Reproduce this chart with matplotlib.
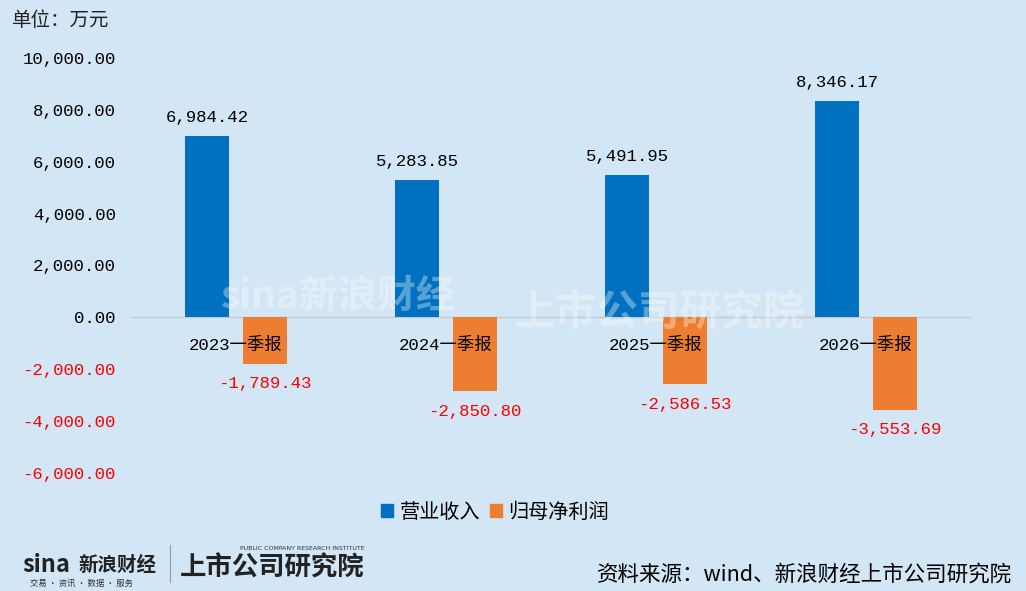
import matplotlib
matplotlib.use("Agg")
import matplotlib.pyplot as plt
from matplotlib.patches import Patch

# data
categories = ["2023一季报", "2024一季报", "2025一季报", "2026一季报"]
revenue = [6984.42, 5283.85, 5491.95, 8346.17]
net_profit = [-1789.43, -2850.80, -2586.53, -3553.69]
y_ticks = [10000, 8000, 6000, 4000, 2000, 0, -2000, -4000, -6000]

BG = "#D2E6F5"
BLUE = "#0070C0"
ORANGE = "#ED7D31"
RED = "#FF0000"
NUM_FONT = ["Liberation Mono", "Noto Sans CJK SC", "DejaVu Sans"]
CJK_FONT = ["Noto Sans CJK SC", "DejaVu Sans"]

fig = plt.figure(figsize=(10.26, 5.91), dpi=100, facecolor=BG)
ax = fig.add_axes([131 / 1026, 118 / 591, 840 / 1026, 415 / 591])
ax.set_facecolor(BG)

x = list(range(len(categories)))
w = 0.21
off = 0.136

# faint watermark behind bars
fig.text(0.215, 0.48, "sina新浪财经", fontsize=28, color="white", alpha=0.35,
         family=CJK_FONT, fontweight="bold", style="italic", zorder=0)
fig.text(0.50, 0.45, "上市公司研究院", fontsize=30, color="white", alpha=0.35,
         family=CJK_FONT, fontweight="bold", style="italic", zorder=0)

ax.bar([i - off for i in x], revenue, width=w, color=BLUE, zorder=3)
ax.bar([i + off for i in x], net_profit, width=w, color=ORANGE, zorder=3)
ax.axhline(0, color="#C8C8C8", lw=1, zorder=2)

for i in x:
    ax.annotate(f"{revenue[i]:,.2f}", (i - off, revenue[i]), xytext=(0, 8),
                textcoords="offset points", ha="center", va="bottom",
                fontsize=12.5, family=NUM_FONT, color="black", zorder=5)
    ax.annotate(f"{net_profit[i]:,.2f}", (i + off, net_profit[i]), xytext=(0, -9),
                textcoords="offset points", ha="center", va="top",
                fontsize=12.5, family=NUM_FONT, color=RED, zorder=5)
    ax.annotate(categories[i], (i, 0), xytext=(0, -20),
                textcoords="offset points", ha="center", va="center",
                fontsize=12.5, family=NUM_FONT, color="black", zorder=6)

ax.set_xlim(-0.5, len(categories) - 0.5)
ax.set_ylim(-6000, 10000)
ax.set_xticks([])
ax.set_yticks(y_ticks)
ax.set_yticklabels([f"{v:,.2f}" for v in y_ticks], family=NUM_FONT, fontsize=12.5)
for lab, v in zip(ax.get_yticklabels(), y_ticks):
    lab.set_color(RED if v < 0 else "black")
ax.tick_params(axis="y", length=0, pad=11)
for s in ax.spines.values():
    s.set_visible(False)

fig.text(12 / 1026, 1 - 20 / 591, "单位：万元", fontsize=14, family=CJK_FONT,
         va="center", ha="left", color="#222222")

handles = [Patch(color=BLUE, label="营业收入"), Patch(color=ORANGE, label="归母净利润")]
fig.legend(handles=handles, loc="center", bbox_to_anchor=(495 / 1026, 1 - 512 / 591),
           ncol=2, frameon=False, handlelength=0.6, handleheight=0.6,
           handletextpad=0.3, columnspacing=0.5, prop={"family": CJK_FONT, "size": 14.5})

# logos and source in the footer
fig.text(22 / 1026, 1 - 565 / 591, "sina", fontsize=17, color="#222222",
         fontweight="bold", style="italic", va="center", family=CJK_FONT)
fig.text(78 / 1026, 1 - 565 / 591, "新浪财经", fontsize=14, color="#222222",
         fontweight="bold", va="center", family=CJK_FONT)
fig.text(30 / 1026, 1 - 583 / 591, "交易 · 资讯 · 数据 · 服务", fontsize=6,
         color="#333333", va="center", family=CJK_FONT)
fig.add_artist(plt.Line2D([170 / 1026, 170 / 1026], [1 - 582 / 591, 1 - 545 / 591],
                          color="#999999", lw=0.8))
fig.text(180 / 1026, 1 - 568 / 591, "上市公司研究院", fontsize=19, color="#222222",
         fontweight="bold", style="italic", va="center", family=CJK_FONT)
fig.text(240 / 1026, 1 - 549 / 591, "PUBLIC COMPANY RESEARCH INSTITUTE", fontsize=4.5,
         color="#333333", va="center", family="DejaVu Sans")
fig.text(1012 / 1026, 1 - 575 / 591, "资料来源：wind、新浪财经上市公司研究院",
         fontsize=15.5, family=CJK_FONT, ha="right", va="center", color="black")

fig.savefig("out.png", dpi=100, facecolor=BG)
